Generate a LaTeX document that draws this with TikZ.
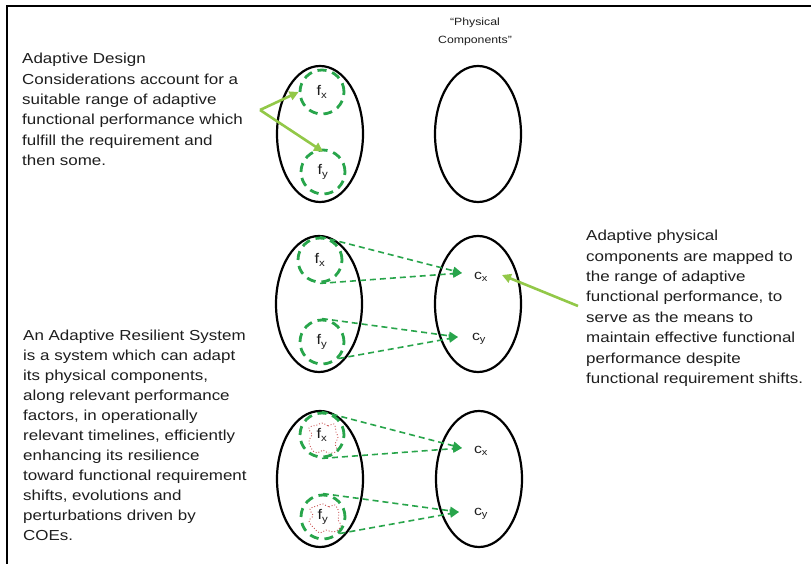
\documentclass[tikz,border=0pt]{standalone}
\usepackage{fontspec}
\setmainfont[FakeStretch=1.17]{Liberation Sans}
\usetikzlibrary{shapes.geometric,arrows.meta}
\definecolor{dashgreen}{RGB}{40,165,75}
\definecolor{leafgreen}{RGB}{146,200,72}
\definecolor{blobred}{RGB}{200,80,80}
\definecolor{inkgrey}{RGB}{30,30,30}

\begin{document}
\begin{tikzpicture}[x=1pt,y=-1pt,
  setoval/.style={draw=black, line width=2.2pt, ellipse, minimum width=86pt, minimum height=136pt, inner sep=0pt},
  fcirc/.style={draw=dashgreen, line width=2.8pt, dash pattern=on 9pt off 6pt, circle, minimum size=44pt, inner sep=0pt, text=inkgrey, font=\fontsize{14}{15}\selectfont},
  clabel/.style={inner sep=1pt, text=inkgrey, font=\fontsize{13.5}{15}\selectfont},
  mapto/.style={draw=dashgreen, line width=1.6pt, dash pattern=on 6pt off 4pt, -{Triangle[length=9pt,width=8pt]}},
  pointer/.style={draw=leafgreen, line width=2.6pt, -{Triangle[length=9pt,width=9pt]}},
  note/.style={align=left, inner sep=0pt, anchor=north west, text=inkgrey, font=\fontsize{14.5}{20.4}\selectfont},
  blob/.style={draw=blobred, line width=0.9pt, dotted}
]
\useasboundingbox (0,0) rectangle (811,564);
\fill[white] (0,0) rectangle (811,564);

% page frame (top and left rules)
\draw[line width=2pt] (7,564) -- (7,6) -- (811,6);

% column header
\node[align=center, inner sep=0pt, text=inkgrey, font=\fontsize{10.5}{18}\selectfont] (hdr) at (475,32) {“Physical\\Components”};

% ---------- row 1: adaptive design considerations ----------
\node[setoval] (F1) at (320,134) {};
\node[setoval] (P1) at (478,134) {};
\node[fcirc] (f1x) at (322,92) {f\textsubscript{x}};
\node[fcirc] (f1y) at (323,172) {f\textsubscript{y}};

\node[note] (t1) at (22,53) {Adaptive Design\\Considerations account for a\\suitable range of adaptive\\functional performance which\\fulfill the requirement and\\then some.};
\coordinate (v1) at (260,110);
\draw[pointer] (v1) -- (f1x.west);
\draw[pointer] (v1) -- ([yshift=-3pt]f1y.north);

% ---------- row 2: mapping to physical components ----------
\node[setoval] (F2) at (319,304) {};
\node[setoval] (P2) at (478,304) {};
\node[fcirc] (f2x) at (320,260) {f\textsubscript{x}};
\node[fcirc] (f2y) at (322,342) {f\textsubscript{y}};
\node[clabel] (c2x) at (481,277) {c\textsubscript{x}};
\node[clabel] (c2y) at (479,339) {c\textsubscript{y}};
\coordinate (a2x) at (462,273);
\coordinate (a2y) at (458,337);
\draw[mapto] (f2x.north) -- (a2x);
\draw[mapto] (f2x.south) -- (a2x);
\draw[mapto] (f2y.north) -- (a2y);
\draw[mapto] (f2y.-45) -- (a2y);

\node[note] (t2) at (586,230) {Adaptive physical\\components are mapped to\\the range of adaptive\\functional performance, to\\serve as the means to\\maintain effective functional\\performance despite\\functional requirement shifts.};
\coordinate (r2) at (578,306);
\draw[pointer] (r2) -- (502,275);

% ---------- row 3: adaptive resilient system ----------
\node[setoval] (F3) at (320,479) {};
\node[setoval] (P3) at (479,479) {};
\draw[blob, shift={(323,438)}] plot[smooth cycle, tension=0.8] coordinates
  {(0,-15) (5,-12) (11,-14) (13,-6) (15,0) (12,6) (14,13) (5,15) (0,12) (-6,15) (-12,10) (-14,2) (-11,-3) (-14,-10) (-6,-13)};
\draw[blob, shift={(325,518)}] plot[smooth cycle, tension=0.8] coordinates
  {(-2,-14) (4,-11) (10,-13) (14,-5) (13,2) (16,8) (9,14) (1,12) (-5,15) (-11,10) (-16,3) (-12,-2) (-15,-9) (-8,-12)};
\node[fcirc] (f3x) at (322,435) {f\textsubscript{x}};
\node[fcirc] (f3y) at (323,517) {f\textsubscript{y}};
\node[clabel] (c3x) at (481,451) {c\textsubscript{x}};
\node[clabel] (c3y) at (481,514) {c\textsubscript{y}};
\coordinate (a3x) at (462,448);
\coordinate (a3y) at (459,512);
\draw[mapto] (f3x.north) -- (a3x);
\draw[mapto] (f3x.south) -- (a3x);
\draw[mapto] (f3y.north) -- (a3y);
\draw[mapto] (f3y.-45) -- (a3y);

\node[note, font=\fontsize{14.5}{20}\selectfont] (t3) at (23,330) {An Adaptive Resilient System\\is a system which can adapt\\its physical components,\\along relevant performance\\factors, in operationally\\relevant timelines, efficiently\\enhancing its resilience\\toward functional requirement\\shifts, evolutions and\\perturbations driven by\\COEs.};
\end{tikzpicture}
\end{document}
